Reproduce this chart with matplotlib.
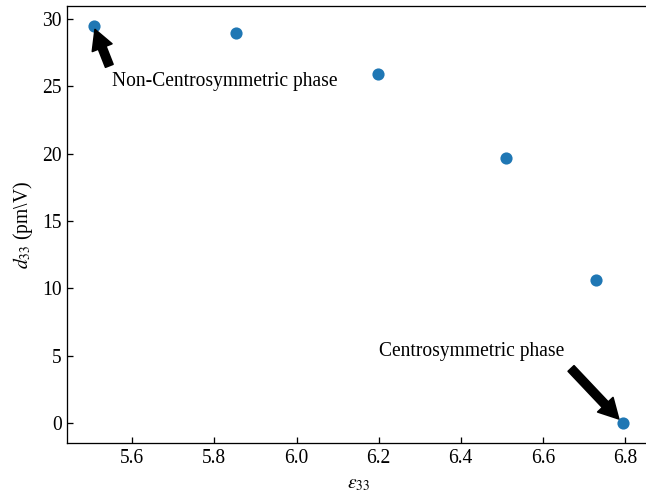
import matplotlib
matplotlib.use("Agg")
import matplotlib.pyplot as plt

# permittivity vs piezo coefficient
eps33 = [5.506, 5.852, 6.199, 6.511, 6.729, 6.795]
d33 = [29.45, 28.95, 25.9, 19.66, 10.63, 0.0]

plt.rcParams['font.family'] = ['Liberation Serif', 'DejaVu Serif']
plt.rcParams['mathtext.fontset'] = 'stix'
plt.rcParams['font.size'] = 12

DPI = 117


def plot():
    fig = plt.figure(figsize=(646 / DPI, 494 / DPI), dpi=DPI)
    # right spine falls just outside the picture, as in the original crop
    ax = fig.add_axes([67.3 / 646, 0.1030, 582.0 / 646, 0.8840])

    ax.scatter(eps33, d33, s=42, color='#1f77b4', zorder=3)

    arrow = dict(facecolor='black', shrink=0.07, width=5, headwidth=13)
    ax.annotate('Non-Centrosymmetric phase', xy=(eps33[0], d33[0]),
                xytext=(5.55, 25), arrowprops=arrow)
    ax.annotate('Centrosymmetric phase', xy=(eps33[-1], d33[-1]),
                xytext=(6.2, 5), arrowprops=arrow)

    ax.set_xlabel(r'$\varepsilon_{33}$')
    ax.set_ylabel(r'$d_{33}$ (pm\V)')
    ax.tick_params(direction='in')

    fig.savefig('out.png', dpi=DPI)


if __name__ == '__main__':
    plot()
